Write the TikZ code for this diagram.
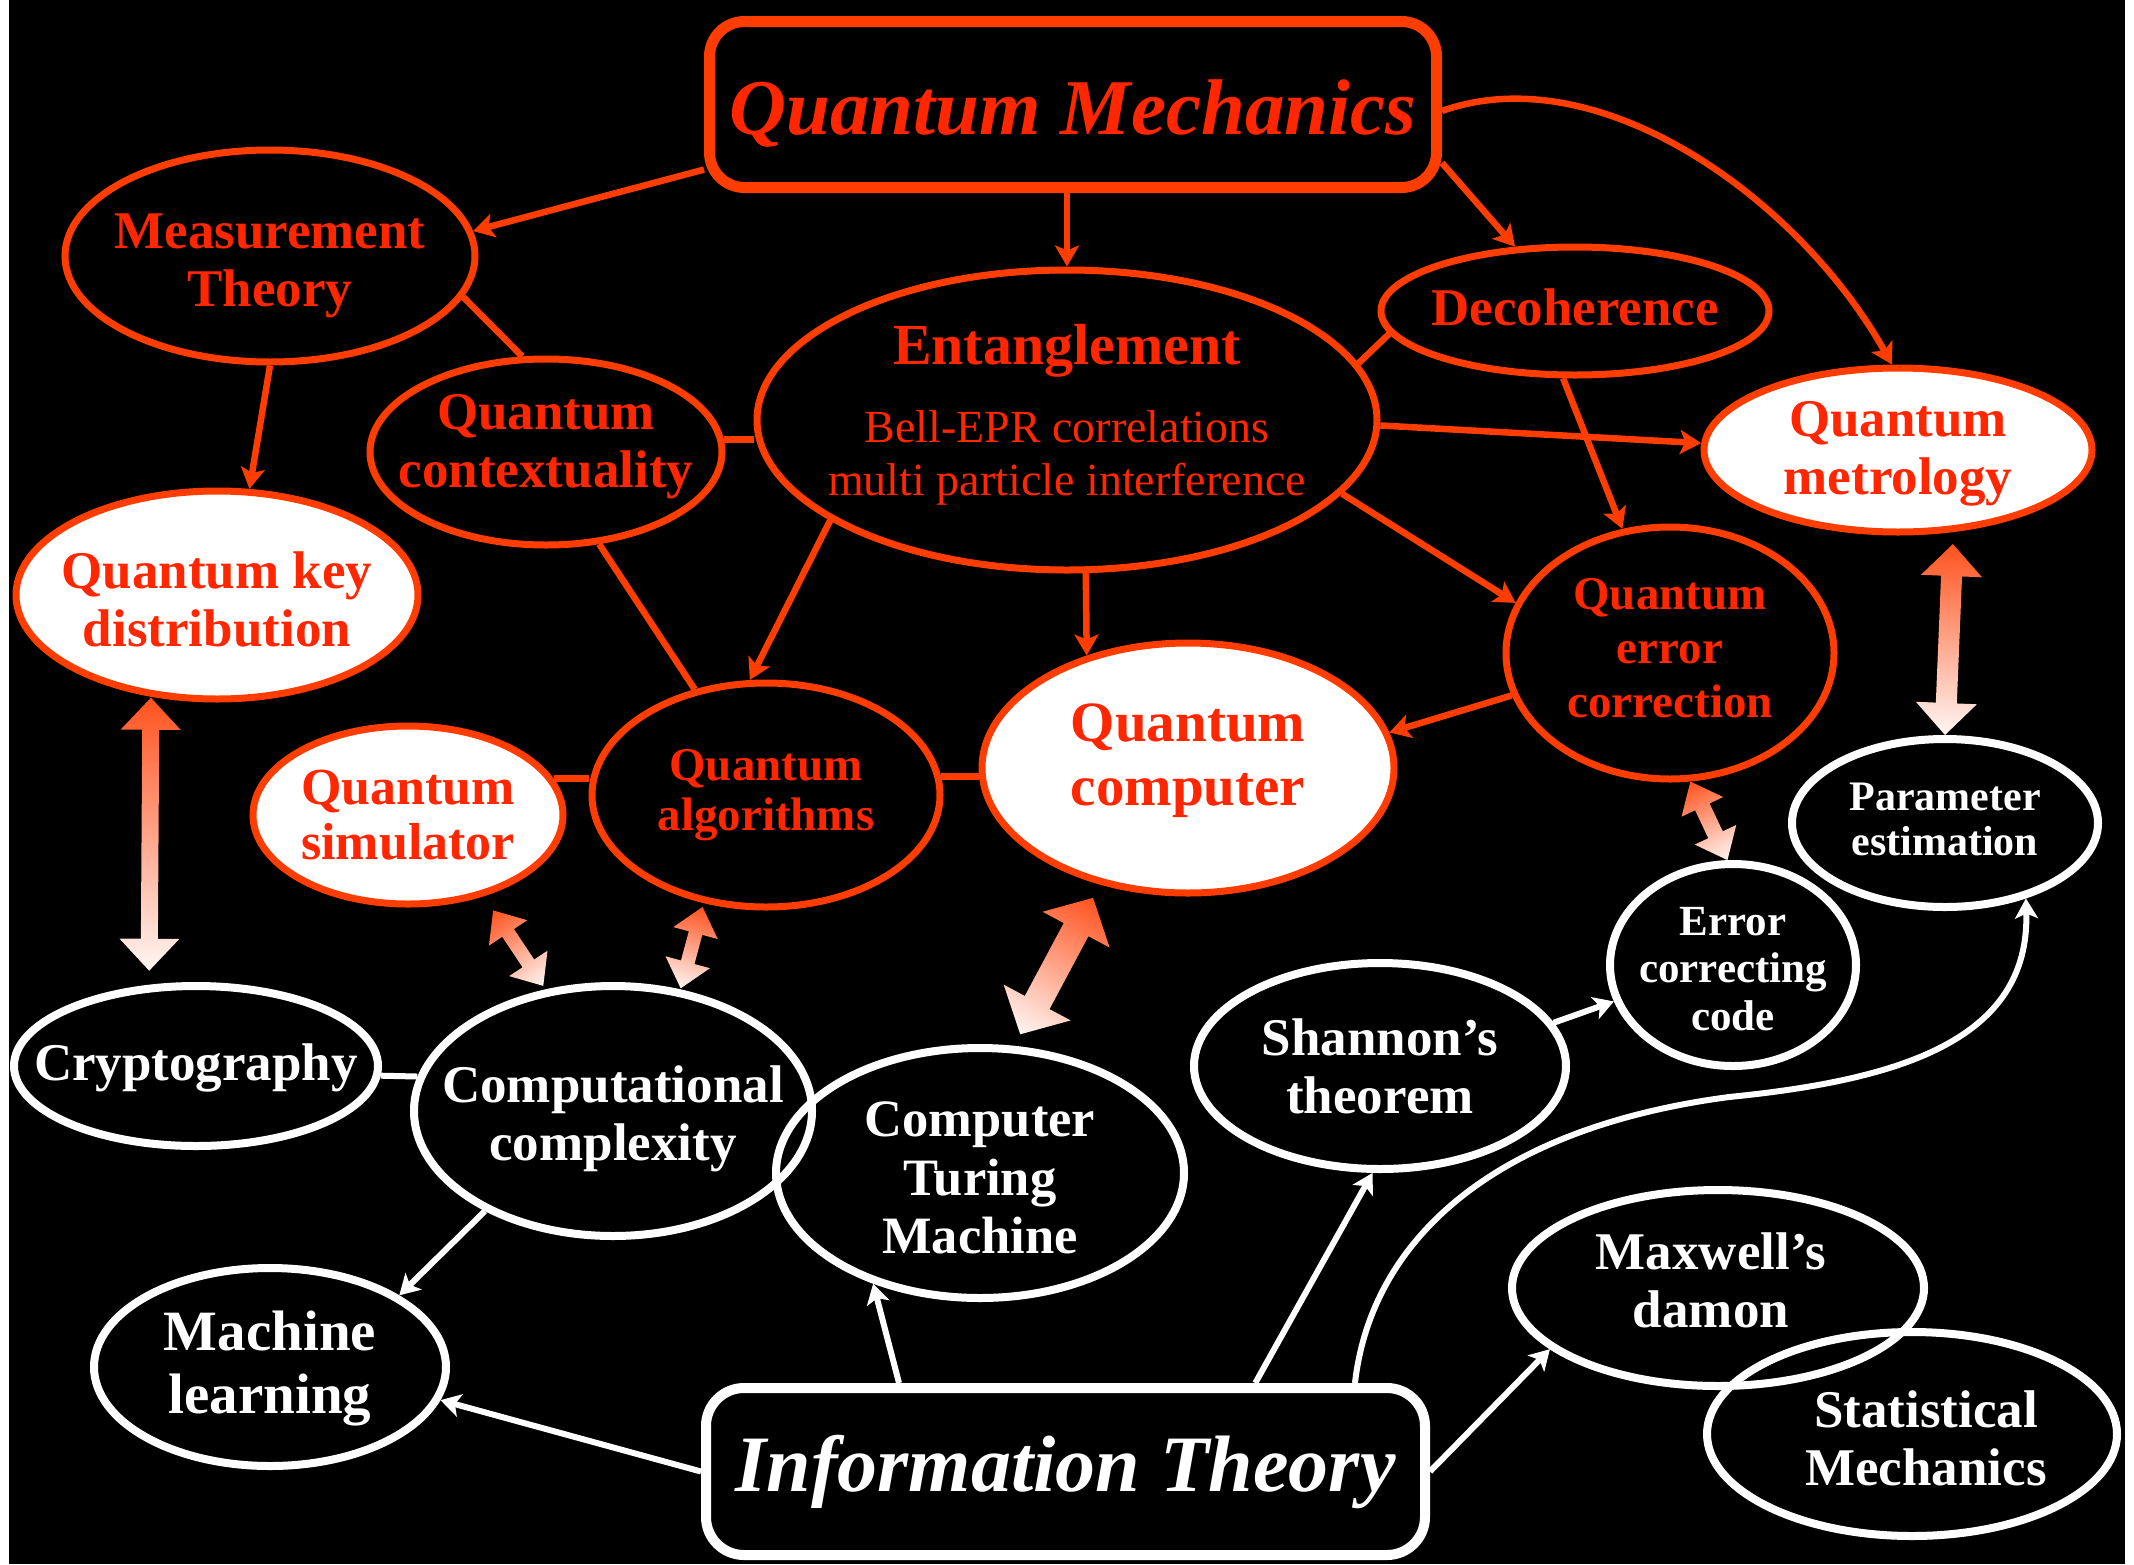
\documentclass[tikz,border=0pt]{standalone}
\usepackage{fontspec}
\setmainfont{Liberation Serif}
\usetikzlibrary{shapes.geometric,arrows.meta,calc}
\definecolor{qor}{RGB}{255,61,0}
\definecolor{qtx}{RGB}{255,38,0}
\definecolor{gA}{RGB}{255,82,30}
\definecolor{gB}{RGB}{255,246,243}
\newcommand\gradarrow[7]{%
 \path let \p1=#1, \p2=#2 in \pgfextra{\xdef\gax{\x1}\xdef\gay{\y1}\xdef\gbx{\x2}\xdef\gby{\y2}};
 \pgfmathsetmacro\gang{atan2((\gby)-(\gay),(\gbx)-(\gax))}%
 \pgfmathsetmacro\glen{veclen((\gbx)-(\gax),(\gby)-(\gay))}%
 \pgfmathsetmacro\gL{\glen-#3-#4}%
 \pgfmathsetmacro\gB{\gL-#7}%
 \pgfmathsetmacro\gw{#5/2}%
 \pgfmathsetmacro\gH{#6/2}%
 \begin{scope}[transform canvas={shift={(\gax,\gay)},rotate=\gang,xshift=#3pt}]
  \shade[left color=gA,right color=gB] (0pt,0pt) -- (#7pt,\gH pt) -- (#7pt,\gw pt) -- (\gB pt,\gw pt) -- (\gB pt,\gH pt) -- (\gL pt,0pt) -- (\gB pt,-\gH pt) -- (\gB pt,-\gw pt) -- (#7pt,-\gw pt) -- (#7pt,-\gH pt) -- cycle;
 \end{scope}}
\begin{document}
\begin{tikzpicture}[x=1pt,y=-1pt,
 fs/.style 2 args={font=\fontsize{#1}{#2}\selectfont\bfseries},
 ell/.style={ellipse, inner sep=0pt},
 oell/.style={ell, draw=qor, line width=7pt},
 well/.style={ell, draw=white, line width=8pt},
 otx/.style={inner sep=0pt, align=center, text=qtx},
 wtx/.style={inner sep=0pt, align=center, text=white},
 oline/.style={draw=qor, line width=6.5pt},
 oarr/.style={oline, -{Stealth[length=21pt,width=24pt,inset=5pt]}},
 wline/.style={draw=white, line width=6pt},
 warr/.style={wline, -{Stealth[length=20pt,width=23pt,inset=5pt]}}]
\useasboundingbox (0,0) rectangle (2134,1564);
\fill[white] (0,0) rectangle (2134,1564);
\fill[black] (9,0) rectangle (2125,1564);

% ---- quantum side: shapes
\node[draw=qor, line width=11pt, rounded corners=35pt, inner sep=0pt,
 minimum width=727pt, minimum height=166pt] (QM) at (1073,104.5) {};
\node[oell, minimum width=410pt, minimum height=212pt] (MT) at (270,256) {};
\node[oell, minimum width=352pt, minimum height=186pt] (QCtx) at (546,452) {};
\node[oell, minimum width=620pt, minimum height=300pt] (Ent) at (1067,420) {};
\node[oell, minimum width=388pt, minimum height=128pt] (Dec) at (1575,311) {};
\node[oell, fill=white, minimum width=388pt, minimum height=164pt] (QMet) at (1898,450) {};
\node[oell, fill=white, minimum width=402pt, minimum height=208pt] (QKD) at (217,595) {};
\node[oell, minimum width=328pt, minimum height=252pt] (QEC) at (1670,653) {};
\node[oell, fill=white, minimum width=412pt, minimum height=250pt] (QComp) at (1188,768) {};
\node[oell, minimum width=348pt, minimum height=224pt] (QA) at (766,795) {};
\node[oell, fill=white, minimum width=310pt, minimum height=178pt] (QSim) at (408,815) {};

% ---- information side: shapes
\node[well, minimum width=306pt, minimum height=168pt] (PE) at (1945,823) {};
\node[well, minimum width=246pt, minimum height=202pt] (ECC) at (1733,965) {};
\node[well, minimum width=364pt, minimum height=160pt] (Crypt) at (196,1066) {};
\node[well, minimum width=398pt, minimum height=250pt] (CC) at (613,1111) {};
\node[well, minimum width=408pt, minimum height=250pt] (CTM) at (980,1173) {};
\node[well, minimum width=372pt, minimum height=206pt] (Shan) at (1380,1066) {};
\node[well, minimum width=352pt, minimum height=198pt] (ML) at (270,1367) {};
\node[well, minimum width=412pt, minimum height=196pt] (Max) at (1718,1288) {};
\node[well, minimum width=410pt, minimum height=204pt] (Stat) at (1912,1434) {};
\node[draw=white, line width=10pt, rounded corners=38pt, inner sep=0pt,
 minimum width=719pt, minimum height=167pt] (IT) at (1065.5,1471.5) {};

% ---- texts
\node[otx, font=\fontsize{79}{90}\selectfont\bfseries\itshape] (QMt) at ([shift={(0,9)}]QM.center) {Quantum Mechanics};
\node[otx, fs={53}{58}] (MTt) at ([shift={(0,10)}]MT.center) {Measurement\\Theory};
\node[otx, fs={53}{58}] (QCtxt) at ([shift={(0,-5)}]QCtx.center) {Quantum\\contextuality};
\node[otx, font=\fontsize{46}{53}\selectfont] (Entt) at ([shift={(0,-5)}]Ent.center)
 {{\fontsize{58}{60}\selectfont\bfseries Entanglement}\\[25pt]Bell-EPR correlations\\multi particle interference};
\node[otx, fs={53}{58}] (Dect) at ([shift={(0,-4)}]Dec.center) {Decoherence};
\node[otx, fs={53}{58}] (QMett) at ([shift={(0,4)}]QMet.center) {Quantum\\metrology};
\node[otx, fs={53}{58}] (QKDt) at ([shift={(0,4)}]QKD.center) {Quantum key\\distribution};
\node[otx, fs={47}{54}] (QECt) at ([shift={(0,-5)}]QEC.center) {Quantum\\error\\correction};
\node[otx, fs={57}{64}] (QCompt) at ([shift={(0,-7)}]QComp.center) {Quantum\\computer};
\node[otx, fs={47}{50}] (QAt) at (QA.center) {Quantum\\algorithms};
\node[otx, fs={52}{55}] (QSimt) at (QSim.center) {Quantum\\simulator};
\node[wtx, fs={42}{45}] (PEt) at ([shift={(0,-4)}]PE.center) {Parameter\\estimation};
\node[wtx, fs={43}{47.5}] (ECCt) at ([shift={(0,4)}]ECC.center) {Error\\correcting\\code};
\node[wtx, fs={53}{58}] (Cryptt) at ([shift={(0,2)}]Crypt.center) {Cryptography};
\node[wtx, fs={53}{58}] (CCt) at ([shift={(0,8)}]CC.center) {Computational\\complexity};
\node[wtx, fs={52.5}{58.5}] (CTMt) at ([shift={(0,5)}]CTM.center) {Computer\\Turing\\Machine};
\node[wtx, fs={53}{58}] (Shant) at (Shan.center) {Shannon’s\\theorem};
\node[wtx, fs={57}{63}] (MLt) at ([shift={(0,1)}]ML.center) {Machine\\learning};
\node[wtx, fs={53}{58}] (Maxt) at ([shift={(-7,-8)}]Max.center) {Maxwell’s\\damon};
\node[wtx, fs={53}{58}] (Statt) at ([shift={(14,4)}]Stat.center) {Statistical\\Mechanics};
\node[wtx, font=\fontsize{80}{90}\selectfont\bfseries\itshape] (ITt) at (IT.center) {Information Theory};

% ---- orange connectors
\draw[oarr] (QM.190) -- (MT.7);
\draw[oarr] (Ent.north |- QM.south) -- (Ent.north);
\draw[oarr] (QM.-9.6) -- (Dec.133);
\draw[oarr] (QM.-1) .. controls (1600,55) and (1800,200) .. (QMet.94);
\draw[oline] (MT.-12) -- (QCtx.104);
\draw[oarr] (MT.-90) -- (QKD.73);
\draw[oline] (QCtx.4) -- (QCtx.4 -| Ent.west);
\draw[oline] (QCtx.-60) -- (QA.124);
\draw[oarr] (Ent.-157) -- (QA.98);
\draw[oarr] (Ent.-83) -- (QComp.132);
\draw[oarr] (Ent.-1) -- (QMet.178);
\draw[oarr] (Ent.-15) -- (QEC.162);
\draw[oline] (Dec.-173) -- (Ent.11);
\draw[oarr] (Dec.-100) -- (QEC.111);
\draw[oarr] (QEC.-165) -- (QComp.10);
\draw[oline] (QSim.14) -- (QSim.14 -| QA.west);
\draw[oline] (QA.6) -- (QA.6 -| QComp.west);

% ---- white connectors
\draw[wline] (Crypt.-3) -- (CC.170);
\draw[warr] (CC.-142) -- (ML.29);
\draw[warr] (IT.west) -- (ML.-11);
\draw[warr] (IT.152) -- (CTM.-134);
\draw[warr] (IT.25) -- (Shan.-94);
\draw[warr] (IT.17) .. controls (1370,1250) and (1480,1130) .. (1729,1097)
  .. controls (1900,1080) and (2030,1040) .. (PE.-43);
\draw[warr] (Shan.14) -- (ECC.-163);
\draw[warr] (IT.east) -- (Max.-160);

% ---- gradient double arrows
\gradarrow{(QKD.-123)}{(Crypt.120)}{1}{14}{17}{60}{32}
\gradarrow{(QSim.-47)}{(CC.119)}{17}{4}{14}{46}{27}
\gradarrow{(QA.-120)}{(CC.61)}{4}{1}{14}{46}{27}
\gradarrow{(QComp.-127)}{(CTM.75)}{15}{13}{28}{76}{36}
\gradarrow{(QEC.-81)}{(ECC.93)}{0}{0}{16}{46}{28}
\gradarrow{(QMet.-56)}{(PE.north)}{12}{0}{21}{61}{32}
\end{tikzpicture}
\end{document}
